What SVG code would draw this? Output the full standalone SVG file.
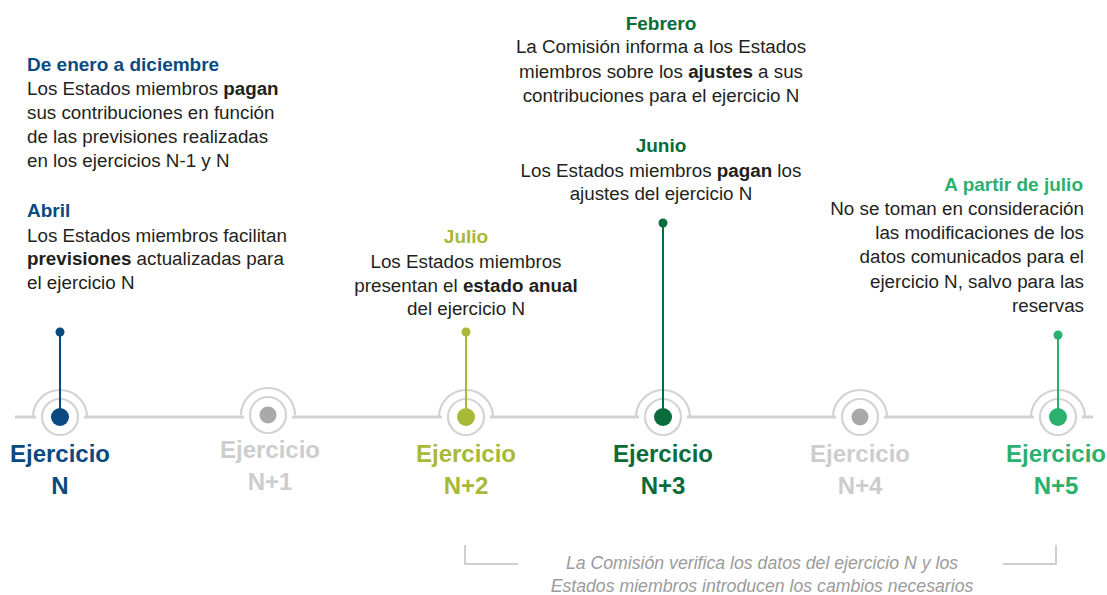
<svg xmlns="http://www.w3.org/2000/svg" width="1107" height="595" viewBox="0 0 1107 595">
<style>
text{font-family:"Liberation Sans",Arial,sans-serif}
.t{font-size:18.8px;fill:#231f20}
.h{font-size:19px;font-weight:bold}
.b{font-weight:bold}
.lab{font-size:24px;font-weight:bold;text-anchor:middle}
.ring{fill:none;stroke:#d3d3d3;stroke-width:2.2}
.disc{fill:#fff}
.note{font-size:17.7px;font-style:italic;fill:#9b9b9b;text-anchor:middle}
.navy{fill:#0b4a80}.olive{fill:#a8b838}.dgreen{fill:#0a6b3b}.lgreen{fill:#2bb06e}.grey{fill:#cdcdcd}
.m{text-anchor:middle}.r{text-anchor:end}
</style>
<rect width="1107" height="595" fill="#fff"/>
<g id="timeline">
<line x1="15" y1="417" x2="1093" y2="417" stroke="#d3d3d3" stroke-width="3"/>
</g>
<g id="connectors" stroke-width="2">
<line x1="60" y1="332" x2="60" y2="412" stroke="#0b4a80"/>
<circle cx="60" cy="332" r="4.5" fill="#0b4a80"/>
<line x1="466" y1="332" x2="466" y2="412" stroke="#a8b838"/>
<circle cx="466" cy="332" r="4.5" fill="#a8b838"/>
<line x1="663" y1="223" x2="663" y2="412" stroke="#0a6b3b"/>
<circle cx="663" cy="223" r="4.5" fill="#0a6b3b"/>
<line x1="1058" y1="335" x2="1058" y2="412" stroke="#2bb06e"/>
<circle cx="1058" cy="335" r="4.5" fill="#2bb06e"/>
</g>
<g id="node-n">
<circle class="disc" cx="60" cy="417" r="24"/>
<path class="ring" d="M33 417 A27 27 0 0 1 87 417"/>
<circle class="ring" cx="60" cy="417" r="18"/>
<line x1="60" y1="340" x2="60" y2="412" stroke="#0b4a80" stroke-width="2"/>
<circle cx="60" cy="417" r="9" class="navy"/>
<text class="lab navy" x="60" y="462">Ejercicio</text>
<text class="lab navy" x="60" y="494">N</text>
</g>
<g id="node-n1">
<circle class="disc" cx="268" cy="415" r="24"/>
<path class="ring" d="M241 415 A27 27 0 0 1 295 415"/>
<circle class="ring" cx="268" cy="415" r="18"/>
<circle cx="268" cy="415" r="8.5" fill="#aba8a8"/>
<text class="lab grey" x="270" y="458">Ejercicio</text>
<text class="lab grey" x="270" y="490">N+1</text>
</g>
<g id="node-n2">
<circle class="disc" cx="466" cy="417" r="24"/>
<path class="ring" d="M439 417 A27 27 0 0 1 493 417"/>
<circle class="ring" cx="466" cy="417" r="18"/>
<line x1="466" y1="340" x2="466" y2="412" stroke="#a8b838" stroke-width="2"/>
<circle cx="466" cy="417" r="9" class="olive"/>
<text class="lab olive" x="466" y="462">Ejercicio</text>
<text class="lab olive" x="466" y="494">N+2</text>
</g>
<g id="node-n3">
<circle class="disc" cx="663" cy="417" r="24"/>
<path class="ring" d="M636 417 A27 27 0 0 1 690 417"/>
<circle class="ring" cx="663" cy="417" r="18"/>
<line x1="663" y1="230" x2="663" y2="412" stroke="#0a6b3b" stroke-width="2"/>
<circle cx="663" cy="417" r="9" class="dgreen"/>
<text class="lab dgreen" x="663" y="462">Ejercicio</text>
<text class="lab dgreen" x="663" y="494">N+3</text>
</g>
<g id="node-n4">
<circle class="disc" cx="860" cy="417" r="24"/>
<path class="ring" d="M833 417 A27 27 0 0 1 887 417"/>
<circle class="ring" cx="860" cy="417" r="18"/>
<circle cx="860" cy="417" r="8.5" fill="#aba8a8"/>
<text class="lab grey" x="860" y="462">Ejercicio</text>
<text class="lab grey" x="860" y="494">N+4</text>
</g>
<g id="node-n5">
<circle class="disc" cx="1058" cy="417" r="24"/>
<path class="ring" d="M1031 417 A27 27 0 0 1 1085 417"/>
<circle class="ring" cx="1058" cy="417" r="18"/>
<line x1="1058" y1="340" x2="1058" y2="412" stroke="#2bb06e" stroke-width="2"/>
<circle cx="1058" cy="417" r="9" class="lgreen"/>
<text class="lab lgreen" x="1056" y="462">Ejercicio</text>
<text class="lab lgreen" x="1056" y="494">N+5</text>
</g>
<g id="text-enero">
<text class="h navy" x="27" y="71">De enero a diciembre</text>
<text class="t" x="27" y="95">Los Estados miembros <tspan class="b">pagan</tspan></text>
<text class="t" x="27" y="119">sus contribuciones en función</text>
<text class="t" x="27" y="143">de las previsiones realizadas</text>
<text class="t" x="27" y="167">en los ejercicios N-1 y N</text>
</g>
<g id="text-abril">
<text class="h navy" x="27" y="217">Abril</text>
<text class="t" x="27" y="242">Los Estados miembros facilitan</text>
<text class="t" x="27" y="265"><tspan class="b">previsiones</tspan> actualizadas para</text>
<text class="t" x="27" y="289">el ejercicio N</text>
</g>
<g id="text-febrero">
<text class="h dgreen m" x="661" y="30">Febrero</text>
<text class="t m" x="661" y="53">La Comisión informa a los Estados</text>
<text class="t m" x="661" y="78">miembros sobre los <tspan class="b">ajustes</tspan> a sus</text>
<text class="t m" x="661" y="102">contribuciones para el ejercicio N</text>
</g>
<g id="text-junio">
<text class="h dgreen m" x="661" y="152">Junio</text>
<text class="t m" x="661" y="177">Los Estados miembros <tspan class="b">pagan</tspan> los</text>
<text class="t m" x="661" y="200">ajustes del ejercicio N</text>
</g>
<g id="text-julio">
<text class="h olive m" x="466" y="243">Julio</text>
<text class="t m" x="466" y="268">Los Estados miembros</text>
<text class="t m" x="466" y="292">presentan el <tspan class="b">estado anual</tspan></text>
<text class="t m" x="466" y="315">del ejercicio N</text>
</g>
<g id="text-apartir">
<text class="h lgreen r" x="1083" y="191">A partir de julio</text>
<text class="t r" x="1084" y="215">No se toman en consideración</text>
<text class="t r" x="1084" y="239">las modificaciones de los</text>
<text class="t r" x="1084" y="263">datos comunicados para el</text>
<text class="t r" x="1084" y="288">ejercicio N, salvo para las</text>
<text class="t r" x="1084" y="312">reservas</text>
</g>
<g id="bracket" fill="none" stroke="#cfcfcf" stroke-width="2">
<path d="M465 545 V564 H518"/>
<path d="M1003 564 H1056 V545"/>
</g>
<g id="note">
<text class="note" x="762" y="569">La Comisión verifica los datos del ejercicio N y los</text>
<text class="note" x="762" y="592">Estados miembros introducen los cambios necesarios</text>
</g>
</svg>
